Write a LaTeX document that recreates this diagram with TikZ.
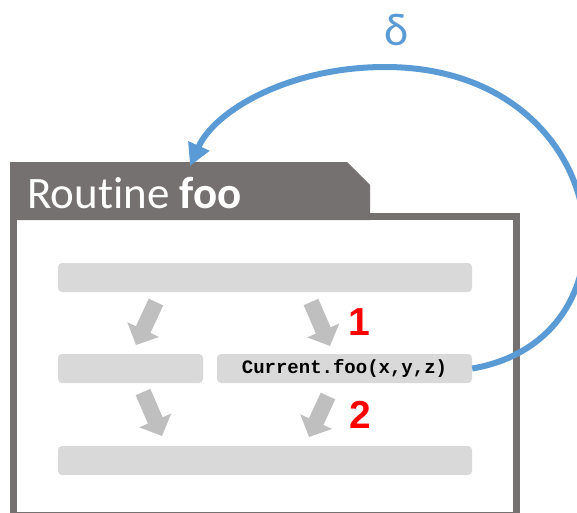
\documentclass[tikz,border=0pt]{standalone}
\usepackage{fontspec}
\setmainfont[Ligatures=NoCommon]{Carlito}
\newfontfamily\codefont{Liberation Mono}
\newfontfamily\numfont{Liberation Sans}
\usetikzlibrary{arrows.meta}
\definecolor{framegray}{HTML}{767171}
\definecolor{bargray}{HTML}{D9D9D9}
\definecolor{flowgray}{HTML}{BFBFBF}
\definecolor{callblue}{HTML}{5B9BD5}
\tikzset{
  bar/.style={fill=bargray,rounded corners=4pt,inner sep=0pt,minimum height=29pt},
  flow/.style={draw=flowgray,line width=16pt,-{Triangle[length=17pt,width=34pt]}},
  stepnum/.style={text=red,font=\numfont\bfseries\fontsize{39}{40}\selectfont,inner sep=0pt,anchor=base},
}
\begin{document}
\begin{tikzpicture}[x=1pt,y=-1pt]
\useasboundingbox (0,0) rectangle (577,512);
% routine frame with its header tab
\fill[framegray] (10,162) -- (347,162) -- (370,185) -- (370,220) -- (10,220) -- cycle;
\draw[framegray,line width=7pt] (13.5,216.5) rectangle (516.5,515.5);
\node[text=white,font=\fontsize{45}{50}\selectfont,inner sep=0pt,anchor=base west] (title) at (27,208) {Routine \textbf{foo}};

\node[bar,minimum width=414pt] (top) at (265,277.5) {};
\node[bar,minimum width=145pt] (left) at (130.5,368.5) {};
\node[bar,minimum width=255pt,font=\codefont\bfseries\fontsize{19}{20}\selectfont] (call) at (344.5,368.5) {Current.foo(x,y,z)};
\node[bar,minimum width=414pt] (bottom) at (265,460.5) {};

\node[stepnum] (one) at (359,335) {1};
\node[stepnum] (two) at (360,428) {2};

\coordinate (a1) at (156,302); \coordinate (a2) at (136,345);
\coordinate (b1) at (311,302); \coordinate (b2) at (330,346);
\coordinate (c1) at (143,392); \coordinate (c2) at (162,436);
\coordinate (d1) at (328,396); \coordinate (d2) at (309,437);
\draw[flow] (a1) -- (a2); \draw[flow] (b1) -- (b2); \draw[flow] (c1) -- (c2); \draw[flow] (d1) -- (d2);

% recursive call back into the routine
\coordinate (entry) at (190,166);
\draw[callblue,line width=6pt,-{Triangle[length=22pt,width=22pt]}] (call.east) .. controls (650,338) and (615,67) .. (385,67) .. controls (290,67) and (215,110) .. (entry);
\node[text=callblue,font=\fontsize{46}{50}\selectfont,inner sep=0pt,anchor=base] (delta) at (397,45) {δ};
\end{tikzpicture}
\end{document}
